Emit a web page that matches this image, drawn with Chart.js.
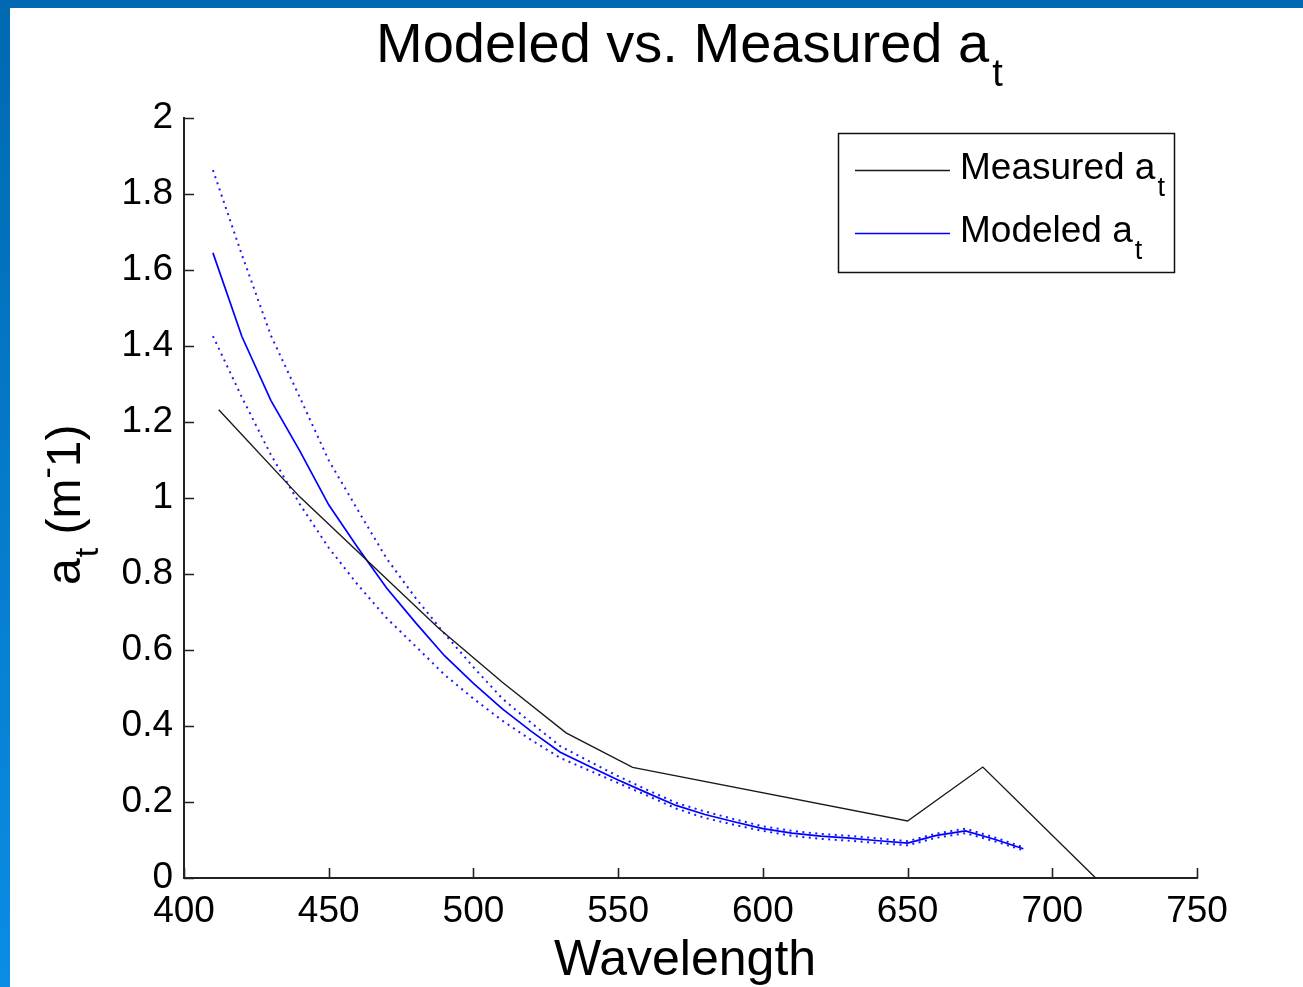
<!DOCTYPE html>
<html>
<head>
<meta charset="utf-8">
<script src="https://cdn.jsdelivr.net/npm/chart.js@4.4.0/dist/chart.umd.min.js"></script>
<style>
  html, body { margin: 0; padding: 0; background: #ffffff; }
  #wrap { position: relative; width: 1303px; height: 987px; }
  canvas { display: block; }
</style>
</head>
<body>
<div id="wrap"><canvas id="c" width="1303" height="987"></canvas></div>
<script>
// ---- Data ----
const measuredWavelengths = [412, 440, 488, 510, 532, 555, 650, 676, 715];
const measuredValues      = [1.232, 1.003, 0.657, 0.515, 0.382, 0.291, 0.150, 0.292, 0.0];

const modeledWavelengths = [410, 420, 430, 440, 450, 460, 470, 480, 490, 500,
                            510, 520, 530, 540, 550, 560, 570, 580, 590, 600,
                            610, 620, 630, 640, 650, 660, 670, 680, 690];
const modeledValues = [1.645, 1.425, 1.257, 1.124, 0.982, 0.870, 0.763, 0.672, 0.585, 0.512,
                       0.445, 0.386, 0.331, 0.294, 0.258, 0.224, 0.191, 0.167, 0.148, 0.130,
                       0.118, 0.110, 0.105, 0.098, 0.092, 0.112, 0.124, 0.102, 0.077];
const modeledUpper  = [1.863, 1.640, 1.428, 1.265, 1.099, 0.969, 0.841, 0.737, 0.643, 0.555,
                       0.472, 0.408, 0.347, 0.307, 0.268, 0.232, 0.198, 0.175, 0.155, 0.136,
                       0.124, 0.116, 0.111, 0.104, 0.097, 0.117, 0.130, 0.107, 0.081];
const modeledLower  = [1.426, 1.265, 1.114, 0.984, 0.869, 0.772, 0.684, 0.610, 0.535, 0.472,
                       0.414, 0.363, 0.316, 0.283, 0.250, 0.217, 0.183, 0.158, 0.140, 0.124,
                       0.111, 0.103, 0.098, 0.092, 0.086, 0.106, 0.118, 0.097, 0.073];

const xTickValues = [400, 450, 500, 550, 600, 650, 700, 750];
const yTickValues = [0, 0.2, 0.4, 0.6, 0.8, 1, 1.2, 1.4, 1.6, 1.8, 2];

const titleMain = "Modeled vs. Measured a";
const titleSub = "t";
const xTitle = "Wavelength";
const legendLabels = ["Measured a", "Modeled a"];

const FONT = '"Liberation Sans", Arial, Helvetica, sans-serif';

function pts(xs, ys) { return xs.map((x, i) => ({ x: x, y: ys[i] })); }

const decorPlugin = {
  id: 'decor',
  beforeDraw(chart) {
    const ctx = chart.ctx;
    ctx.save();
    ctx.fillStyle = '#ffffff';
    ctx.fillRect(0, 0, chart.width, chart.height);
    ctx.fillStyle = '#0069b1';
    ctx.fillRect(0, 0, chart.width, 8);
    const g = ctx.createLinearGradient(0, 0, 0, chart.height);
    g.addColorStop(0, '#0069b1');
    g.addColorStop(1, '#0a8de4');
    ctx.fillStyle = g;
    ctx.fillRect(0, 0, 10, chart.height);
    ctx.restore();
  },
  afterDraw(chart) {
    const ctx = chart.ctx;
    const xs = chart.scales.x, ys = chart.scales.y;
    const ca = chart.chartArea;
    ctx.save();
    ctx.strokeStyle = '#222';
    ctx.lineWidth = 1.6;
    ctx.beginPath();
    xTickValues.forEach(v => {
      const px = Math.round(xs.getPixelForValue(v)) + 0.5;
      ctx.moveTo(px, ca.bottom);
      ctx.lineTo(px, ca.bottom - 10);
    });
    yTickValues.forEach(v => {
      const py = Math.round(ys.getPixelForValue(v)) + 0.5;
      ctx.moveTo(ca.left, py);
      ctx.lineTo(ca.left + 10, py);
    });
    ctx.stroke();

    ctx.fillStyle = '#000';
    ctx.textBaseline = 'alphabetic';
    ctx.textAlign = 'left';
    ctx.font = '56px ' + FONT;
    ctx.fillText(titleMain, 376, 62);
    const tw = ctx.measureText(titleMain).width;
    ctx.font = '38px ' + FONT;
    ctx.fillText(titleSub, 376 + tw + 3, 86);

    ctx.font = '50px ' + FONT;
    ctx.textAlign = 'center';
    ctx.fillText(xTitle, 685, 975);
    ctx.textAlign = 'left';

    ctx.save();
    ctx.translate(80, 585);
    ctx.rotate(-Math.PI / 2);
    let cx = 0;
    ctx.font = '48px ' + FONT;
    ctx.fillText('a', cx, 0); cx += ctx.measureText('a').width + 1;
    ctx.font = '34px ' + FONT;
    ctx.fillText('t', cx, 18); cx += ctx.measureText('t').width;
    ctx.font = '48px ' + FONT;
    ctx.fillText(' (m', cx, 0); cx += ctx.measureText(' (m').width;
    ctx.font = '34px ' + FONT;
    ctx.fillText('-', cx, -22); cx += ctx.measureText('-').width;
    ctx.font = '48px ' + FONT;
    ctx.fillText('1)', cx, 0);
    ctx.restore();

    ctx.strokeStyle = '#111';
    ctx.lineWidth = 1.5;
    ctx.strokeRect(838.5, 133.5, 336, 139);
    const rows = [
      { y: 170, color: chart.data.datasets[0].borderColor, label: legendLabels[0] },
      { y: 233, color: chart.data.datasets[1].borderColor, label: legendLabels[1] }
    ];
    rows.forEach(r => {
      ctx.strokeStyle = r.color;
      ctx.lineWidth = 1.5;
      ctx.beginPath();
      ctx.moveTo(855, r.y + 0.5);
      ctx.lineTo(950, r.y + 0.5);
      ctx.stroke();
      ctx.font = '37px ' + FONT;
      ctx.fillStyle = '#000';
      ctx.fillText(r.label, 960, r.y + 9);
      const lw = ctx.measureText(r.label).width;
      ctx.font = '27px ' + FONT;
      ctx.fillText('t', 960 + lw + 2, r.y + 26);
    });
    ctx.restore();
  }
};

new Chart(document.getElementById('c'), {
  type: 'scatter',
  data: {
    datasets: [
      { label: 'Measured a_t', data: pts(measuredWavelengths, measuredValues),
        showLine: true, borderColor: '#1a1a1a', borderWidth: 1.4, pointRadius: 0, fill: false, order: 0 },
      { label: 'Modeled a_t', data: pts(modeledWavelengths, modeledValues),
        showLine: true, borderColor: '#0000ff', borderWidth: 1.7, pointRadius: 0, fill: false, order: 1 },
      { label: 'Modeled upper', data: pts(modeledWavelengths, modeledUpper),
        showLine: true, borderColor: '#1a1aff', borderWidth: 2, borderDash: [2, 4.5], borderCapStyle: 'butt',
        pointRadius: 0, fill: false, order: 2 },
      { label: 'Modeled lower', data: pts(modeledWavelengths, modeledLower),
        showLine: true, borderColor: '#1a1aff', borderWidth: 2, borderDash: [2, 4.5], borderCapStyle: 'butt',
        pointRadius: 0, fill: false, order: 3 }
    ]
  },
  options: {
    responsive: false,
    animation: false,
    layout: { padding: { left: 0, right: 106, top: 118, bottom: 0 } },
    plugins: { legend: { display: false }, title: { display: false }, tooltip: { enabled: false } },
    scales: {
      x: {
        type: 'linear', min: 400, max: 750,
        afterFit: s => { s.height = 109; },
        afterBuildTicks: s => { s.ticks = xTickValues.map(v => ({ value: v })); },
        grid: { display: false, drawTicks: false },
        border: { display: true, color: '#222', width: 2 },
        ticks: { color: '#000', padding: 12, maxRotation: 0, autoSkip: false,
                 font: { family: FONT, size: 37 }, callback: v => String(v) }
      },
      y: {
        type: 'linear', min: 0, max: 2,
        afterFit: s => { s.width = 184; },
        afterBuildTicks: s => { s.ticks = yTickValues.map(v => ({ value: v })); },
        grid: { display: false, drawTicks: false },
        border: { display: true, color: '#222', width: 2 },
        ticks: { color: '#000', padding: 11, autoSkip: false,
                 font: { family: FONT, size: 37 }, callback: v => String(Number(v.toFixed(1))) }
      }
    }
  },
  plugins: [decorPlugin]
});
</script>
</body>
</html>
